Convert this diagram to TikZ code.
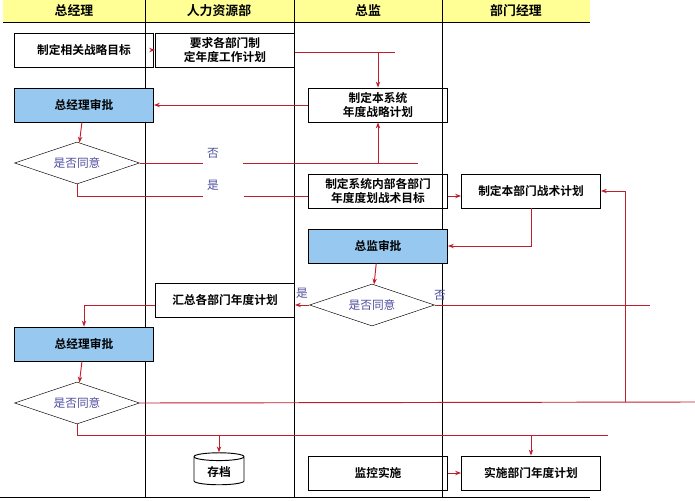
\documentclass[tikz,border=0pt]{standalone}
\usepackage{fontspec}
\setmainfont{Noto Sans CJK SC}[BoldFont={Noto Sans CJK SC Bold}]
\usetikzlibrary{shapes.geometric,arrows.meta}
\definecolor{linered}{RGB}{190,30,45}
\definecolor{boxblue}{RGB}{150,200,240}
\definecolor{headyellow}{RGB}{255,255,150}
\definecolor{asktext}{RGB}{80,80,160}

\begin{document}
\begin{tikzpicture}[x=0.03cm,y=-0.03cm,
  task/.style = {rectangle,draw,thick,minimum width=139*0.03cm,minimum height=34*0.03cm,align=center,font=\fontsize{10}{12}\selectfont\bfseries,inner sep=1pt},
  approve/.style = {task,fill=boxblue},
  ask/.style = {diamond,draw,aspect=3,minimum width=125*0.03cm,minimum height=42*0.03cm,inner sep=0pt,font=\fontsize{10}{12}\selectfont,text=asktext},
  flow/.style = {draw=linered,thick,-{Stealth[length=5pt]}},
  wire/.style = {draw=linered,thick},
  tag/.style = {font=\fontsize{10}{12}\selectfont,text=asktext}]

\useasboundingbox (0,0) rectangle (695,500);

% header
\fill[headyellow] (3,0) rectangle (590,22);
\draw[thick] (3,22) -- (590,22);
\node[font=\fontsize{11}{13}\selectfont\bfseries] (hzjl) at (74,11) {总经理};
\node[font=\fontsize{11}{13}\selectfont\bfseries] (hrl) at (219,11) {人力资源部};
\node[font=\fontsize{11}{13}\selectfont\bfseries] (hzj) at (368,11) {总监};
\node[font=\fontsize{11}{13}\selectfont\bfseries] (hbm) at (516,11) {部门经理};
\draw (145,0) -- (145,497);
\draw (294,0) -- (294,497);
\draw (442,0) -- (442,497);
\draw[thick] (0,497) -- (590,497);

% nodes
\node[task] (goal) at (84,50) {制定相关战略目标};
\node[task] (ask) at (225,50) {要求各部门制\\定年度工作计划};
\node[approve] (gm1) at (84,105) {总经理审批};
\node[task] (plan) at (378,105) {制定本系统\\年度战略计划};
\node[ask] (ok1) at (77,163) {是否同意};
\node[task] (target) at (378,191) {制定系统内部各部门\\年度度划战术目标};
\node[task] (tactic) at (531,191) {制定本部门战术计划};
\node[approve] (dir) at (378,246) {总监审批};
\node[task] (sum) at (225,300) {汇总各部门年度计划};
\node[ask] (ok2) at (372,305) {是否同意};
\node[approve] (gm2) at (84,344) {总经理审批};
\node[ask] (ok3) at (77,403) {是否同意};
\node[cylinder,shape border rotate=90,draw,thick,aspect=0.25,minimum width=50*0.03cm,minimum height=32*0.03cm,font=\fontsize{10}{12}\selectfont\bfseries] (file) at (219,472) {存档};
\node[task] (watch) at (378,473) {监控实施};
\node[task] (run) at (531,473) {实施部门年度计划};

\node[tag] (no1) at (213,153) {否};
\node[tag] (yes1) at (213,185) {是};
\node[tag] (yes2) at (302,293) {是};
\node[tag] (no2) at (440,295) {否};

\coordinate (c1) at (395,52);
\coordinate (c2) at (418,163);
\coordinate (c3) at (650,305);
\coordinate (c4) at (695,402);
\coordinate (c5) at (608,435);
\coordinate (c6) at (625,402);

% connectors
\draw[flow] (goal) -- (ask);
\draw[wire] (ask.east |- c1) -- (c1);
\draw[flow] (plan.north |- c1) -- (plan.north);
\draw[flow] (plan.west |- gm1) -- (gm1.east);
\draw[flow] (gm1) -- (ok1);
\draw[wire] (ok1.east) -- (no1.west |- ok1.east);
\draw[wire] (no1.east |- c2) ++(20,0) -- (c2);
\draw[flow] (plan.south |- c2) -- (plan.south);
\draw[wire] (target.west |- 0,196) -- ++(-64,0);
\draw[wire] (yes1.west |- 0,196) -| (ok1.south);
\draw[flow] (target.east |- 0,196) -- (tactic.west |- 0,196);
\draw[flow] (tactic.south) |- (dir.east);
\draw[flow] (dir) -- (ok2);
\draw[flow] (ok2.west) -- (sum.east |- ok2.west);
\draw[flow] (sum.west |- ok2.west) -| (gm2.north);
\draw[wire] (ok2.east) -- (c3);
\draw[flow] (c6) |- (tactic.east);
\draw[flow] (gm2) -- (ok3);
\draw[wire] (ok3.east) -- (c4);
\draw[wire] (ok3.south) |- (c5);
\draw[flow] (file.north |- c5) -- (file.north);
\draw[flow] (run.north |- c5) -- (run.north);
\draw[flow] (watch) -- (run);

\end{tikzpicture}
\end{document}
